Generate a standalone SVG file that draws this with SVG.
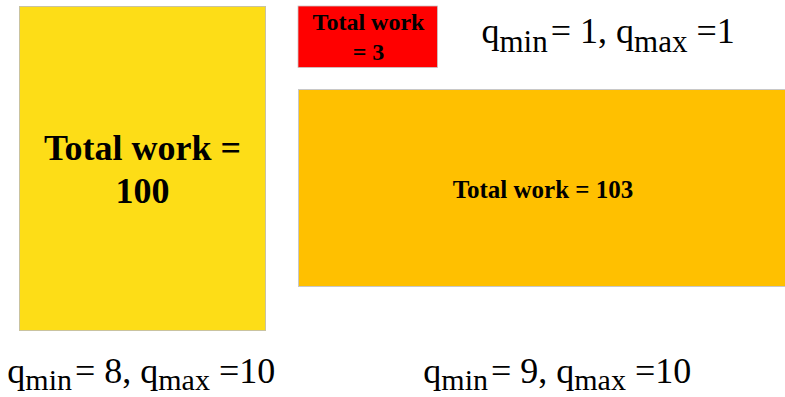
<svg xmlns="http://www.w3.org/2000/svg" width="785" height="397" viewBox="0 0 785 397">
<style>
.lbl{font-weight:bold;fill:#000;text-anchor:middle}
.q{font-size:36px;fill:#000}
.sub{font-size:31px}
.subb{font-size:30px}
</style>
<rect width="785" height="397" fill="#fff"/>
<g id="node-yellow">
<rect x="19.5" y="6.5" width="246" height="324" fill="#FDDD17" stroke="#C9C3A0" stroke-width="1"/>
<text class="lbl" font-family="Liberation Serif, Times New Roman, serif" x="142.5" y="159.5" font-size="36">Total work =</text>
<text class="lbl" font-family="Liberation Serif, Times New Roman, serif" x="142.5" y="203" font-size="36">100</text>
</g>
<g id="node-red">
<rect x="298" y="6" width="139.5" height="61.5" fill="#FF0000" stroke="#C8C8C8" stroke-width="0.8"/>
<text class="lbl" font-family="Liberation Serif, Times New Roman, serif" x="368.5" y="30" font-size="24">Total work</text>
<text class="lbl" font-family="Liberation Serif, Times New Roman, serif" x="368.5" y="60" font-size="24">= 3</text>
</g>
<g id="node-orange">
<rect x="298.5" y="89.5" width="487" height="197" fill="#FFC000" stroke="#C8C8C8" stroke-width="1"/>
<text class="lbl" font-family="Liberation Serif, Times New Roman, serif" x="543" y="197.5" font-size="25">Total work = 103</text>
</g>
<g id="connectors"></g>
<g id="labels">
<text class="q" font-family="Liberation Serif, Times New Roman, serif" x="481.5" y="43.3">q<tspan class="sub" dy="9">min</tspan><tspan dy="-9" dx="3">= 1, q</tspan><tspan class="sub" dy="9">max</tspan><tspan dy="-9"> =1</tspan></text>
<text class="q" font-family="Liberation Serif, Times New Roman, serif" x="7.3" y="383">q<tspan class="subb" dy="6.5">min</tspan><tspan dy="-6.5" dx="3">= 8, q</tspan><tspan class="subb" dy="6.5">max</tspan><tspan dy="-6.5"> =10</tspan></text>
<text class="q" font-family="Liberation Serif, Times New Roman, serif" x="423.3" y="383">q<tspan class="subb" dy="6.5">min</tspan><tspan dy="-6.5" dx="3">= 9, q</tspan><tspan class="subb" dy="6.5">max</tspan><tspan dy="-6.5"> =10</tspan></text>
</g>
</svg>
